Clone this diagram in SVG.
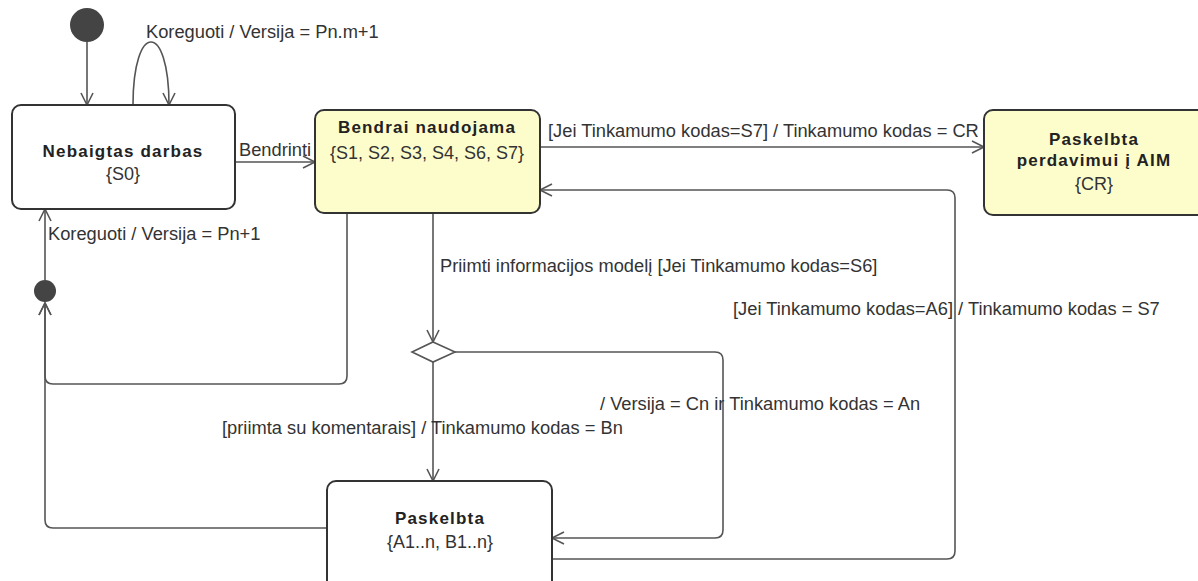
<svg xmlns="http://www.w3.org/2000/svg" width="1198" height="581" viewBox="0 0 1198 581">
<defs>
<marker id="arr" markerUnits="userSpaceOnUse" markerWidth="16" markerHeight="16" refX="13" refY="7" orient="auto">
<path d="M1,1 L13,7 L1,13" fill="none" stroke="#555" stroke-width="1.6"/>
</marker>
</defs>
<style>
.node{fill:#fff;stroke:#333;stroke-width:2}
.y{fill:#fdfdcc}
.t{font-family:"Liberation Sans",Arial,sans-serif;font-size:17px;font-weight:bold;letter-spacing:1.2px;fill:#222;text-anchor:middle}
.s{font-family:"Liberation Sans",Arial,sans-serif;font-size:18px;fill:#333;text-anchor:middle}
.l{font-family:"Liberation Sans",Arial,sans-serif;font-size:18.3px;fill:#333}
.c{fill:none;stroke:#555;stroke-width:1.6}
.dot{fill:#444}
</style>
<rect width="1198" height="581" fill="#fff"/>
<g id="connectors">
<path class="c" d="M87,42 V105" marker-end="url(#arr)"/>
<path class="c" d="M133,105 C133,21 169,21 169,105" marker-end="url(#arr)"/>
<path class="c" d="M235,162 H315" marker-end="url(#arr)"/>
<path class="c" d="M540,147 H984" marker-end="url(#arr)"/>
<path class="c" d="M347,213 V376 Q347,384 339,384 H53 Q45,384 45,376 V303" marker-end="url(#arr)"/>
<path class="c" d="M327,528 H53 Q45,528 45,520 V303" marker-end="url(#arr)"/>
<path class="c" d="M45,280 V209" marker-end="url(#arr)"/>
<path class="c" d="M433,213 V342" marker-end="url(#arr)"/>
<path class="c" d="M433,362 V481" marker-end="url(#arr)"/>
<path class="c" d="M455,352 H715 Q723,352 723,360 V530 Q723,538 715,538 H552" marker-end="url(#arr)"/>
<path class="c" d="M552,559 H947 Q955,559 955,551 V198 Q955,190 947,190 H540" marker-end="url(#arr)"/>
<text class="l" x="146" y="38">Koreguoti / Versija = Pn.m+1</text>
<text class="l" x="239" y="156">Bendrinti</text>
<text class="l" x="548" y="137">[Jei Tinkamumo kodas=S7] / Tinkamumo kodas = CR</text>
<text class="l" x="48" y="240">Koreguoti / Versija = Pn+1</text>
<text class="l" x="440" y="272">Priimti informacijos modelį [Jei Tinkamumo kodas=S6]</text>
<text class="l" x="733" y="315">[Jei Tinkamumo kodas=A6] / Tinkamumo kodas = S7</text>
<text class="l" x="600" y="410">/ Versija = Cn ir Tinkamumo kodas = An</text>
<text class="l" x="222" y="434">[priimta su komentarais] / Tinkamumo kodas = Bn</text>
</g>
<g id="initial"><circle class="dot" cx="87" cy="25" r="17"/></g>
<g id="junction"><circle class="dot" cx="45" cy="291" r="11"/></g>
<g id="decision"><polygon points="433,342 455,352 433,362 412,352" fill="#fff" stroke="#555" stroke-width="1.6"/></g>
<g id="nebaigtas">
<rect class="node" x="12" y="105" width="223" height="104" rx="9"/>
<text class="t" x="123" y="157">Nebaigtas darbas</text>
<text class="s" x="123" y="180">{S0}</text>
</g>
<g id="bendrai">
<rect class="node y" x="315" y="110" width="225" height="103" rx="9"/>
<text class="t" x="427" y="133">Bendrai naudojama</text>
<text class="s" x="427" y="159">{S1, S2, S3, S4, S6, S7}</text>
</g>
<g id="perdavimui">
<rect class="node y" x="984" y="110" width="225" height="105" rx="9"/>
<text class="t" x="1094" y="145">Paskelbta</text>
<text class="t" x="1094" y="166">perdavimui į AIM</text>
<text class="s" x="1094" y="190">{CR}</text>
</g>
<g id="paskelbta">
<rect class="node" x="327" y="481" width="225" height="110" rx="9"/>
<text class="t" x="440" y="524">Paskelbta</text>
<text class="s" x="440" y="548">{A1..n, B1..n}</text>
</g>
</svg>
